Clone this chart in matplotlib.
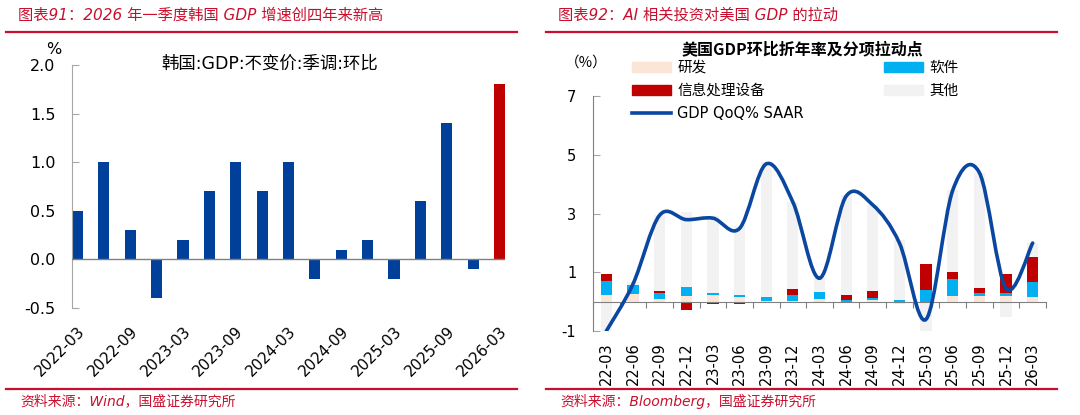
import numpy as np
import matplotlib
matplotlib.use("Agg")
import matplotlib.pyplot as plt
from matplotlib.path import Path
from matplotlib.patches import PathPatch, Patch
from matplotlib.lines import Line2D

plt.rcParams['font.family'] = ['DejaVu Sans', 'Noto Sans CJK SC']
plt.rcParams['axes.unicode_minus'] = False

# ---- left panel data: Korea GDP QoQ (%)
kr_quarters = ["2022-03", "2022-06", "2022-09", "2022-12", "2023-03", "2023-06",
               "2023-09", "2023-12", "2024-03", "2024-06", "2024-09", "2024-12",
               "2025-03", "2025-06", "2025-09", "2025-12", "2026-03"]
kr_gdp = [0.5, 1.0, 0.3, -0.4, 0.2, 0.7, 1.0, 0.7, 1.0, -0.2, 0.1, 0.2,
          -0.2, 0.6, 1.4, -0.1, 1.8]

# ---- right panel data: US GDP SAAR and contributions (pp)
us_quarters = ["22-03", "22-06", "22-09", "22-12", "23-03", "23-06", "23-09",
               "23-12", "24-03", "24-06", "24-09", "24-12", "25-03", "25-06",
               "25-09", "25-12", "26-03"]
us_rd = [0.24, 0.26, 0.09, 0.19, 0.23, 0.15, 0.02, 0.03, 0.08, -0.05, 0.06,
         -0.09, -0.05, 0.20, 0.20, 0.19, 0.17]
us_software = [0.46, 0.32, 0.20, 0.30, 0.05, 0.09, 0.14, 0.20, 0.26, 0.06, 0.07,
               0.06, 0.39, 0.59, 0.09, 0.10, 0.49]
us_equipment = [0.25, -0.06, 0.07, -0.27, -0.09, -0.09, -0.05, 0.20, 0.00, 0.17,
                0.24, 0.00, 0.90, 0.23, 0.17, 0.67, 0.85]
us_other = [-1.95, 0.08, 2.59, 2.58, 2.66, 2.35, 4.59, 2.97, 0.46, 3.42, 2.93,
            2.03, -1.84, 2.78, 3.94, -0.51, 0.49]
us_gdp = [-1.0, 0.6, 2.95, 2.8, 2.85, 2.5, 4.7, 3.4, 0.8, 3.6, 3.3, 2.0, -0.6,
          3.8, 4.4, 0.45, 2.0]

RED = "#C8102E"
BLUE = "#00409A"
GRAY = "#A6A6A6"
CJK = ["Noto Sans CJK SC", "DejaVu Sans"]
W, H = 1080, 415

fig = plt.figure(figsize=(W / 100, H / 100), dpi=100)

# headers, rules and sources
for x0, x1 in [(6, 517), (546, 1057)]:
    for y in (32, 389):
        fig.add_artist(Line2D([x0 / W, x1 / W], [1 - y / H] * 2,
                              transform=fig.transFigure, color=RED, lw=1.6))
fig.text(18 / W, 1 - 15 / H, "图表91：2026 年一季度韩国 GDP 增速创四年来新高",
         color=RED, style="italic", fontsize=11, va="center")
fig.text(558 / W, 1 - 15 / H, "图表92：AI 相关投资对美国 GDP 的拉动",
         color=RED, style="italic", fontsize=11, va="center")
fig.text(20 / W, 1 - 401 / H, "资料来源：Wind，国盛证券研究所",
         color=RED, style="italic", fontsize=10, va="center")
fig.text(560 / W, 1 - 401 / H, "资料来源：Bloomberg，国盛证券研究所",
         color=RED, style="italic", fontsize=10, va="center")

# ---------------- left chart
ax1 = fig.add_axes([72 / W, 1 - 308 / H, (505 - 72) / W, (308 - 65) / H])
x1 = np.arange(len(kr_gdp))
colors = [BLUE] * (len(kr_gdp) - 1) + ["#C00000"]
ax1.bar(x1, kr_gdp, width=0.42, color=colors, zorder=2)
ax1.axhline(0, color="#808080", lw=1, zorder=3)
ax1.set_xlim(-0.21, len(kr_gdp) - 0.79)
ax1.set_ylim(-0.5, 2.0)
ax1.set_yticks(np.arange(-0.5, 2.01, 0.5))
ax1.set_yticklabels([f"{v:.1f}" for v in np.arange(-0.5, 2.01, 0.5)])
ax1.set_xticks(x1[::2])
ax1.set_xticklabels(kr_quarters[::2], rotation=45, ha="right", va="top",
                    rotation_mode="anchor")
ax1.tick_params(axis="x", length=0, pad=11, labelsize=11)
ax1.tick_params(axis="y", direction="in", length=5, color=GRAY, pad=12,
                labelsize=11.5)
for s in ["top", "right", "bottom"]:
    ax1.spines[s].set_visible(False)
ax1.spines["left"].set_color(GRAY)
fig.text(270 / W, 1 - 64 / H, "韩国:GDP:不变价:季调:环比", fontsize=12.5,
         ha="center", va="center")
fig.text(54 / W, 1 - 50 / H, "%", fontsize=11.5, ha="center", va="center")

# ---------------- right chart
ax2 = fig.add_axes([593 / W, 1 - 331 / H, (1046 - 593) / W, (331 - 96.5) / H])
x2 = np.arange(len(us_gdp))
pos_base = np.zeros(len(us_gdp))
neg_base = np.zeros(len(us_gdp))
series = [(us_rd, "#FBE5D6"), (us_software, "#00B0F0"),
          (us_equipment, "#C00000"), (us_other, "#F2F2F2")]
for vals, col in series:
    v = np.array(vals)
    bottom = np.where(v >= 0, pos_base, neg_base)
    ax2.bar(x2, v, width=0.42, bottom=bottom, color=col, zorder=2)
    pos_base = pos_base + np.where(v >= 0, v, 0)
    neg_base = neg_base + np.where(v < 0, v, 0)

# smoothed GDP line (Bezier through the data points)
pts = np.column_stack([x2, us_gdp]).astype(float)
verts = [pts[0]]
codes = [Path.MOVETO]
n = len(pts)
for i in range(n - 1):
    p_prev = pts[i - 1] if i > 0 else pts[i]
    p_next = pts[i + 2] if i + 2 < n else pts[i + 1]
    verts += [pts[i] + (pts[i + 1] - p_prev) / 6,
              pts[i + 1] - (p_next - pts[i]) / 6, pts[i + 1]]
    codes += [Path.CURVE4] * 3
line_col = "#0A47A0"
ax2.add_patch(PathPatch(Path(verts, codes), fill=False, ec=line_col, lw=2.6,
                        zorder=4, capstyle="round"))

ax2.set_xlim(-0.5, len(us_gdp) - 0.5)
ax2.set_ylim(-1, 7)
ax2.set_yticks([-1, 1, 3, 5, 7])
ax2.set_xticks(x2)
ax2.set_xticklabels(us_quarters, rotation=90)
ax2.tick_params(axis="x", length=0, pad=8, labelsize=10.5)
ax2.tick_params(axis="y", direction="in", length=5, color=GRAY, pad=12,
                labelsize=10.5)
for s in ["top", "right", "bottom"]:
    ax2.spines[s].set_visible(False)
ax2.spines["left"].set_color("#808080")

zax = ax2.secondary_xaxis(0, transform=ax2.transData)
zax.set_xticks(np.arange(-0.5, len(us_gdp), 1))
zax.tick_params(direction="out", length=4, color="#808080", labelbottom=False)
zax.spines["bottom"].set_color("#808080")
zax.set_zorder(3)

handles = [Patch(color="#FBE5D6"), Patch(color="#C00000"),
           Line2D([], [], color=line_col, lw=2.6),
           Patch(color="#00B0F0"), Patch(color="#F2F2F2")]
labels = ["研发", "信息处理设备", "GDP QoQ% SAAR", "软件", "其他"]
fig.legend(handles, labels, ncol=2, loc="upper left",
           bbox_to_anchor=(632 / W, 1 - 60 / H), frameon=False, fontsize=10.5,
           handlelength=2.7, handleheight=0.7, labelspacing=0.55,
           columnspacing=5.5, handletextpad=0.4, borderpad=0, borderaxespad=0)

fig.text(802 / W, 1 - 49 / H, "美国GDP环比折年率及分项拉动点", fontsize=11.5,
         fontweight="bold", ha="center", va="center", family=CJK)
fig.text(586 / W, 1 - 63 / H, "（%）", fontsize=10.5, ha="center", va="center",
         family=CJK)

fig.savefig("out.png", dpi=100)
